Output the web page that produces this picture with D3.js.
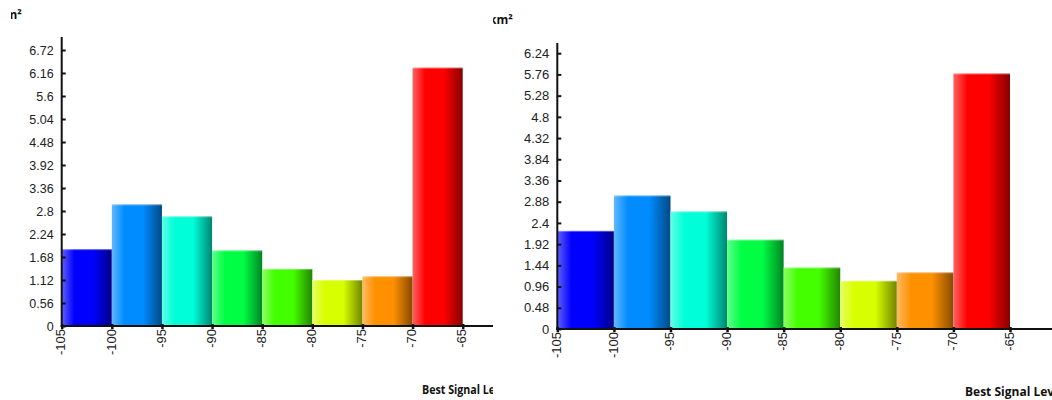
<!DOCTYPE html>
<html>
<head>
<meta charset="utf-8">
<script src="https://cdn.jsdelivr.net/npm/d3@7"></script>
<style>
  html, body { margin: 0; padding: 0; background: #fff; }
  svg { display: block; }
</style>
</head>
<body>
<svg id="chart" width="1052" height="400"></svg>
<script>
// ---- data ----
const binEdges = [-105, -100, -95, -90, -85, -80, -75, -70, -65];
const xTickLabels = ["-105", "-100", "-95", "-90", "-85", "-80", "-75", "-70", "-65"];
const leftValues = [1.87, 2.96, 2.67, 1.84, 1.39, 1.12, 1.21, 6.29];
const rightValues = [2.22, 3.02, 2.66, 2.02, 1.39, 1.09, 1.28, 5.78];
const leftYTicks = [0, 0.56, 1.12, 1.68, 2.24, 2.8, 3.36, 3.92, 4.48, 5.04, 5.6, 6.16, 6.72];
const leftYTickLabels = ["0", "0.56", "1.12", "1.68", "2.24", "2.8", "3.36", "3.92", "4.48", "5.04", "5.6", "6.16", "6.72"];
const rightYTicks = [0, 0.48, 0.96, 1.44, 1.92, 2.4, 2.88, 3.36, 3.84, 4.32, 4.8, 5.28, 5.76, 6.24];
const rightYTickLabels = ["0", "0.48", "0.96", "1.44", "1.92", "2.4", "2.88", "3.36", "3.84", "4.32", "4.8", "5.28", "5.76", "6.24"];
const barColors = ["#0000ff", "#008cff", "#00ffd8", "#00ff44", "#44ff00", "#d8ff00", "#ff9000", "#ff0000"];
const yAxisTitle = "km²";
const xAxisTitle = "Best Signal Level (dBm)";

const svg = d3.select("#chart");
const defs = svg.append("defs");

barColors.forEach((c, i) => {
  const g = defs.append("linearGradient").attr("id", "grad" + i)
    .attr("x1", "0%").attr("x2", "100%").attr("y1", "0%").attr("y2", "0%");
  const light = d3.interpolateRgb(c, "#ffffff")(0.38);
  const dark = d3.interpolateRgb(c, "#000000")(0.48);
  g.append("stop").attr("offset", "0%").attr("stop-color", light);
  g.append("stop").attr("offset", "25%").attr("stop-color", c);
  g.append("stop").attr("offset", "62%").attr("stop-color", c);
  g.append("stop").attr("offset", "100%").attr("stop-color", dark);
});

const panels = [
  { id: "L", clip: [11, 493], values: leftValues, yTicks: leftYTicks, yLabels: leftYTickLabels,
    x0: 61.7, x1: 462.7, xEnd: 493, yZero: 326, yTop: 50, yMax: 6.72, axisTop: 37,
    yFont: 12.5, xFont: 13, yTitle: [-2, 19], xTitle: [422, 394], squeeze: 0.89, yPad: 8 },
  { id: "R", clip: [493, 1052], values: rightValues, yTicks: rightYTicks, yLabels: rightYTickLabels,
    x0: 557.3, x1: 1010, xEnd: 1052, yZero: 329, yTop: 53.2, yMax: 6.24, axisTop: 43,
    yFont: 13, xFont: 13, yTitle: [489, 24], xTitle: [965, 396], squeeze: 1, yPad: 8 }
];

panels.forEach(p => {
  defs.append("clipPath").attr("id", "clip" + p.id)
    .append("rect").attr("x", p.clip[0]).attr("y", 0)
    .attr("width", p.clip[1] - p.clip[0]).attr("height", 400);

  const g = svg.append("g").attr("clip-path", `url(#clip${p.id})`);

  const x = d3.scaleLinear().domain([binEdges[0], binEdges[binEdges.length - 1]]).range([p.x0, p.x1]);
  const y = d3.scaleLinear().domain([0, p.yMax]).range([p.yZero, p.yTop]);

  // bars
  g.selectAll("rect.bar").data(p.values).enter().append("rect")
    .attr("class", "bar")
    .attr("x", (d, i) => x(binEdges[i]))
    .attr("width", (d, i) => x(binEdges[i + 1]) - x(binEdges[i]))
    .attr("y", d => y(d))
    .attr("height", d => y(0) - y(d))
    .attr("fill", (d, i) => `url(#grad${i})`);
  // subtle light top edge
  g.selectAll("rect.top").data(p.values).enter().append("rect")
    .attr("x", (d, i) => x(binEdges[i]))
    .attr("width", (d, i) => x(binEdges[i + 1]) - x(binEdges[i]))
    .attr("y", d => y(d))
    .attr("height", 1)
    .attr("fill", "#fff").attr("opacity", 0.35);

  // y axis
  const yAxis = d3.axisLeft(y).tickValues(p.yTicks)
    .tickFormat((d, i) => p.yLabels[i])
    .tickSizeInner(-4).tickSizeOuter(0).tickPadding(p.yPad);
  const ya = g.append("g").attr("transform", `translate(${p.x0},0)`).call(yAxis);
  ya.select(".domain").remove();
  ya.selectAll(".tick line").attr("stroke", "#111").attr("stroke-width", 2);
  ya.selectAll(".tick text").attr("fill", "#222")
    .style("font-family", "'Liberation Sans', Arial, sans-serif").style("font-size", p.yFont + "px");
  g.append("line").attr("x1", p.x0).attr("x2", p.x0)
    .attr("y1", p.axisTop).attr("y2", p.yZero + 1)
    .attr("stroke", "#111").attr("stroke-width", 2);

  // x axis
  const xAxis = d3.axisBottom(x).tickValues(binEdges)
    .tickFormat((d, i) => xTickLabels[i]).tickSizeInner(3).tickSizeOuter(0);
  const xa = g.append("g").attr("transform", `translate(0,${p.yZero})`).call(xAxis);
  xa.select(".domain").remove();
  xa.selectAll(".tick line").attr("stroke", "#111").attr("stroke-width", 2.5).attr("y1", -2);
  xa.selectAll(".tick text")
    .attr("transform", "rotate(-90)")
    .attr("x", -3).attr("y", 0).attr("dy", "0.25em")
    .attr("text-anchor", "end")
    .attr("fill", "#222")
    .style("font-family", "'Liberation Sans', Arial, sans-serif").style("font-size", p.xFont + "px");
  g.append("line").attr("x1", p.x0 - 1).attr("x2", p.xEnd)
    .attr("y1", p.yZero).attr("y2", p.yZero)
    .attr("stroke", "#111").attr("stroke-width", 2);

  // titles
  g.append("text").attr("x", p.yTitle[0]).attr("y", p.yTitle[1])
    .style("font-family", "'Open Sans', sans-serif").style("font-weight", "bold").style("font-size", "12px")
    .attr("fill", "#111").text(yAxisTitle);
  g.append("text")
    .attr("transform", `translate(${p.xTitle[0]},${p.xTitle[1]}) scale(${p.squeeze},1)`)
    .style("font-family", "'Open Sans', sans-serif").style("font-weight", "bold").style("font-size", "12px")
    .attr("fill", "#111").text(xAxisTitle);
});
</script>
</body>
</html>
